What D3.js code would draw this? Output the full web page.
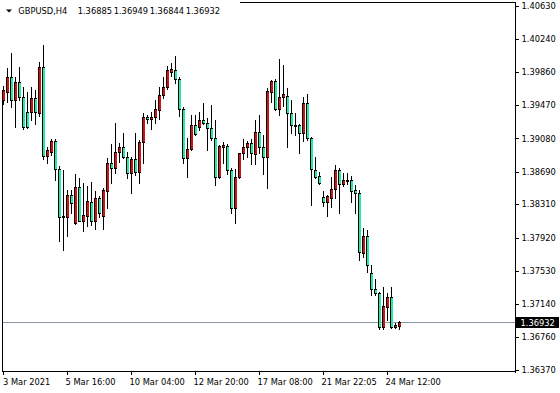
<!DOCTYPE html>
<html><head><meta charset="utf-8">
<script src="https://cdn.jsdelivr.net/npm/d3@7"></script>
<style>
html,body{margin:0;padding:0;background:#fff;}
svg{display:block;}
text{font-family:"DejaVu Sans",Tahoma,sans-serif;font-size:8.3px;fill:#000;}
</style></head><body>
<svg id="c" width="560" height="393"></svg>
<script>
const symbol = "GBPUSD,H4";
const lastQuote = [1.36885, 1.36949, 1.36844, 1.36932];
const currentPrice = 1.36932;

const openP = [1.39530,1.39627,1.39802,1.39530,1.39744,1.39565,1.39393,1.39393,1.39553,1.39378,
1.39919,1.38874,1.38925,1.39050,1.38719,1.38157,1.38164,1.38418,1.38094,1.38508,
1.38117,1.38176,1.38336,1.38117,1.38383,1.38172,1.38468,1.38793,1.38731,1.38925,
1.38980,1.38866,1.38679,1.38836,1.38691,1.39035,1.39334,1.39304,1.39327,1.39413,
1.39588,1.39678,1.39861,1.39881,1.39772,1.39421,1.38847,1.38953,1.39237,1.39210,
1.39296,1.39257,1.39199,1.39082,1.38625,1.38983,1.38992,1.38711,1.38262,1.38625,
1.38906,1.38976,1.39023,1.38894,1.39159,1.38976,1.38866,1.39627,1.39752,1.39421,
1.39568,1.39580,1.39374,1.39237,1.39237,1.39147,1.39498,1.39082,1.38711,1.38640,
1.38391,1.38333,1.38386,1.38485,1.38711,1.38543,1.38594,1.38594,1.38476,1.38438,
1.37743,1.37938,1.37505,1.37318,1.37268,1.36870,1.37111,1.37221,1.36870,1.36885];
const highP = [1.39694,1.39904,1.40076,1.39802,1.39919,1.39682,1.39627,1.39682,1.39647,1.39978,
1.40173,1.38980,1.39073,1.39073,1.38757,1.38711,1.38476,1.38476,1.38664,1.38617,
1.38562,1.38523,1.38570,1.38468,1.38406,1.38500,1.38851,1.39015,1.39261,1.39027,
1.39147,1.38921,1.38863,1.39144,1.39062,1.39374,1.39354,1.39393,1.39530,1.39678,
1.39802,1.39928,1.39966,1.40045,1.39799,1.39448,1.39085,1.39354,1.39354,1.39393,
1.39491,1.39316,1.39471,1.39296,1.39003,1.39042,1.39015,1.38734,1.38719,1.38910,
1.39073,1.39053,1.39073,1.39296,1.39354,1.39120,1.39667,1.39764,1.39776,1.40006,
1.39940,1.39667,1.39530,1.39381,1.39249,1.39562,1.39600,1.39097,1.38859,1.38684,
1.38468,1.38418,1.38625,1.38769,1.38731,1.38679,1.38672,1.38640,1.38535,1.38476,
1.38028,1.38008,1.37599,1.37435,1.37286,1.37345,1.37268,1.37345,1.36917,1.36949];
const lowP = [1.39483,1.39506,1.39451,1.39217,1.39530,1.39190,1.39202,1.39296,1.39249,1.39342,
1.38839,1.38796,1.38886,1.38594,1.37883,1.37774,1.37938,1.38211,1.38084,1.38108,
1.38000,1.38055,1.38067,1.38024,1.38164,1.38017,1.38270,1.38562,1.38675,1.38808,
1.38851,1.38617,1.38445,1.38652,1.38555,1.38796,1.39264,1.39187,1.39257,1.39304,
1.39553,1.39658,1.39811,1.39732,1.39342,1.38793,1.38632,1.38945,1.39126,1.39179,
1.39249,1.38945,1.39062,1.38535,1.38617,1.38789,1.38660,1.38211,1.38094,1.38617,
1.38836,1.38866,1.38777,1.38777,1.38913,1.38664,1.38503,1.39510,1.39413,1.39354,
1.39460,1.38976,1.39147,1.39120,1.38913,1.39053,1.39062,1.38301,1.38617,1.38547,
1.38289,1.38172,1.38274,1.38386,1.38211,1.38527,1.38543,1.38340,1.38211,1.37657,
1.37689,1.37517,1.37248,1.37248,1.36846,1.36846,1.36955,1.36858,1.36858,1.36844];
const closeP = [1.39647,1.39802,1.39530,1.39744,1.39568,1.39210,1.39210,1.39553,1.39393,1.39919,
1.38874,1.38945,1.39053,1.38722,1.38157,1.38172,1.38418,1.38328,1.38508,1.38117,
1.38184,1.38348,1.38117,1.38383,1.38211,1.38476,1.38793,1.38734,1.38925,1.38980,
1.38866,1.38675,1.38836,1.38691,1.39035,1.39334,1.39304,1.39334,1.39421,1.39588,
1.39678,1.39881,1.39889,1.39772,1.39421,1.38847,1.38953,1.39237,1.39132,1.39296,
1.39264,1.39199,1.39082,1.38625,1.38995,1.39007,1.38711,1.38262,1.38625,1.38906,
1.38976,1.39023,1.38906,1.39159,1.38976,1.38866,1.39639,1.39752,1.39421,1.39568,
1.39597,1.39374,1.39237,1.39229,1.39147,1.39498,1.39082,1.38719,1.38632,1.38555,
1.38333,1.38406,1.38485,1.38711,1.38543,1.38594,1.38586,1.38468,1.38438,1.37754,
1.37938,1.37599,1.37318,1.37268,1.36870,1.37119,1.37221,1.36870,1.36897,1.36932];

const timeLabelBars = [0, 16, 32, 48, 64, 80, 96];
const timeLabels = ["3 Mar 2021", "5 Mar 16:00", "10 Mar 04:00", "12 Mar 20:00", "17 Mar 08:00", "21 Mar 22:05", "24 Mar 12:00"];
const priceTicks = [1.40630, 1.40240, 1.39860, 1.39470, 1.39080, 1.38690, 1.38310, 1.37920, 1.37530, 1.37140, 1.36760, 1.36370];
const priceTickLabels = ["1.40630", "1.40240", "1.39860", "1.39470", "1.39080", "1.38690", "1.38310", "1.37920", "1.37530", "1.37140", "1.36760", "1.36370"];

const upColor = "#D41111";   // close > open
const downColor = "#22EBA5"; // close < open

const svg = d3.select("#c");
const plotRight = 515, plotBottom = 372;

const x = d3.scaleLinear().domain([0, 1]).range([3.5, 7.5]);
const y = d3.scaleLinear().domain([1.36370, 1.40630]).range([370, 6]);

const candles = openP.map((o, i) => ({i, o, h: highP[i], l: lowP[i], c: closeP[i]}));

const chart = svg.append("g").attr("shape-rendering", "crispEdges");

// frame lines
chart.append("line").attr("x1", 2.5).attr("x2", 2.5).attr("y1", 100).attr("y2", plotBottom).attr("stroke", "#000");
chart.append("line").attr("x1", 240).attr("x2", plotRight + 1).attr("y1", 2.5).attr("y2", 2.5).attr("stroke", "#000");

// current price line
const cpY = Math.round(y(currentPrice)) + 0.5;
chart.append("line").attr("x1", 3).attr("x2", plotRight).attr("y1", cpY).attr("y2", cpY).attr("stroke", "#8795a5");

// wicks
chart.selectAll("rect.wick").data(candles).join("rect").attr("class", "wick")
  .attr("x", d => x(d.i) - 0.5)
  .attr("y", d => Math.round(y(d.h)))
  .attr("width", 1)
  .attr("height", d => Math.max(1, Math.round(y(d.l)) - Math.round(y(d.h)) + 1))
  .attr("fill", "#000");

// bodies: 3px wide, black outline on left/top/bottom, 2px colour fill
candles.forEach(d => {
  const top = Math.round(y(Math.max(d.o, d.c)));
  const bot = Math.round(y(Math.min(d.o, d.c)));
  const left = x(d.i) - 1.5;
  if (bot - top < 1) {
    chart.append("rect").attr("x", left).attr("y", top).attr("width", 3).attr("height", 1).attr("fill", "#000");
  } else {
    chart.append("rect").attr("x", left).attr("y", top).attr("width", 3).attr("height", bot - top + 1).attr("fill", "#000");
    if (bot - top > 1) {
      chart.append("rect").attr("x", left + 1).attr("y", top + 1).attr("width", 2).attr("height", bot - top - 1)
        .attr("fill", d.c > d.o ? upColor : downColor);
    }
  }
});

// axes lines
chart.append("line").attr("x1", plotRight + 0.5).attr("x2", plotRight + 0.5).attr("y1", 2).attr("y2", plotBottom + 1).attr("stroke", "#000");
chart.append("line").attr("x1", 2).attr("x2", plotRight + 1).attr("y1", plotBottom - 0.5).attr("y2", plotBottom - 0.5).attr("stroke", "#000");

// price axis
const yAxis = d3.axisRight(y).tickValues(priceTicks).tickSize(3).tickPadding(3)
  .tickFormat((d, k) => priceTickLabels[k]);
const ya = svg.append("g").attr("transform", `translate(${plotRight + 0.5},0)`).call(yAxis);
ya.select(".domain").remove();
ya.selectAll("line").attr("stroke", "#000").attr("shape-rendering", "crispEdges");
ya.selectAll("text").attr("font-family", "DejaVu Sans, Tahoma, sans-serif").attr("font-size", "8.3px").attr("fill", "#000");

// time axis
const xa = svg.append("g");
timeLabelBars.forEach((b, k) => {
  const px = Math.round(x(b)) - 0.5;
  xa.append("line").attr("x1", px).attr("x2", px).attr("y1", plotBottom).attr("y2", plotBottom + 3)
    .attr("stroke", "#000").attr("shape-rendering", "crispEdges");
  xa.append("text").attr("x", k === 0 ? 3 : x(b) - 2).attr("y", plotBottom + 13).text(timeLabels[k]);
});

// current price label
const cpRectY = Math.round(y(currentPrice)) - 5;
svg.append("rect").attr("x", plotRight + 1).attr("y", cpRectY).attr("width", 43).attr("height", 11).attr("fill", "#000");
svg.append("text").attr("x", plotRight + 5.5).attr("y", cpRectY + 8.5).attr("fill", "#fff").style("fill", "#fff").text(d3.format(".5f")(currentPrice));

// title
svg.append("path").attr("d", "M6,9.5 L12,9.5 L9,12.5 Z").attr("fill", "#000");
const title = svg.append("text").attr("x", 18.3).attr("y", 14);
title.append("tspan").text(symbol);
lastQuote.forEach((v, k) => {
  title.append("tspan").attr("x", 77.7 + 36 * k).text(d3.format(".5f")(v));
});
</script>
</body></html>
